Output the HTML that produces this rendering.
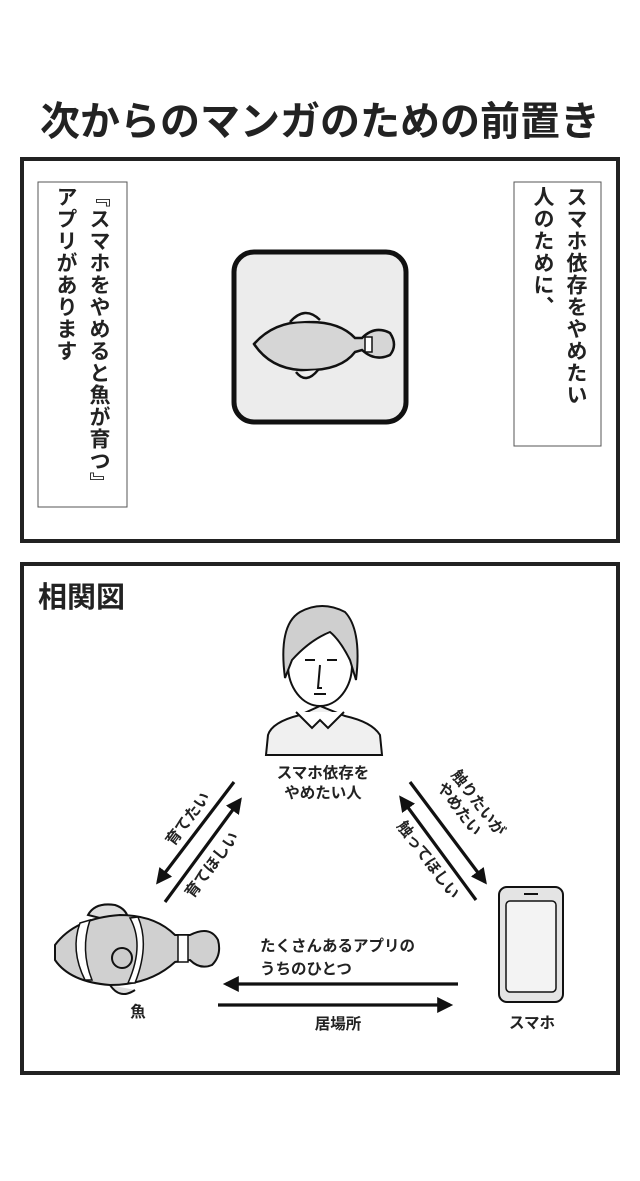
<!DOCTYPE html>
<html><head><meta charset="utf-8"><style>
html,body{margin:0;padding:0;background:#fff}
svg{display:block}
text{font-family:"Liberation Sans","Noto Sans CJK JP",sans-serif;fill:#222}
.v{writing-mode:vertical-rl;font-family:"Liberation Sans","Noto Sans CJK JP",sans-serif;font-size:21px;font-weight:bold;color:#222;position:absolute;line-height:33px;letter-spacing:1px}
</style></head><body>
<div style="position:relative;width:640px;height:1181px">
<svg width="640" height="1181" viewBox="0 0 640 1181">
<defs><marker id="a" markerWidth="6" markerHeight="6" refX="4" refY="3" orient="auto" markerUnits="strokeWidth"><path d="M0,0.5 L5,3 L0,5.5 z" fill="#111"/></marker></defs>
<text x="320" y="135" font-size="40" font-weight="bold" text-anchor="middle">次からのマンガのための前置き</text>
<rect x="22" y="159" width="596" height="382" fill="#fff" stroke="#222" stroke-width="4"/>
<rect x="38" y="182" width="89" height="325" fill="#fff" stroke="#555" stroke-width="1"/>
<rect x="514" y="182" width="87" height="264" fill="#fff" stroke="#555" stroke-width="1"/>
<rect x="234" y="252" width="172" height="170" rx="20" fill="#ececec" stroke="#111" stroke-width="5"/>
<g stroke="#111" stroke-width="2.5" fill="#d6d6d6">
<path d="M254,344 Q275,320 310,322 Q340,322 355,338 L362,338 Q375,325 390,333 Q398,345 390,355 Q375,362 362,350 L355,352 Q340,372 300,370 Q270,368 254,344 z"/>
<path d="M290,322 Q305,305 320,320" fill="#eee"/>
<path d="M296,372 Q306,385 318,370" fill="#eee"/>
<path d="M365,337 L372,337 L372,352 L365,352 z" fill="#fff" stroke-width="1.5"/>
</g>
<rect x="22" y="564" width="596" height="509" fill="#fff" stroke="#222" stroke-width="4"/>
<text x="38" y="607" font-size="29" font-weight="bold">相関図</text>
<g stroke="#111" stroke-width="2" fill="#f0f0f0">
<path d="M266,755 L268,735 Q272,722 300,715 L320,706 L345,716 Q372,722 380,735 L382,755 z"/>
<path d="M296,712 L312,728 L320,720 L328,728 L344,712" fill="#fff"/>
<ellipse cx="320" cy="665" rx="32" ry="41" fill="#fff"/>
<path d="M285,678 Q278,625 300,612 Q322,600 345,612 Q362,630 356,680 L350,660 Q340,640 330,632 Q310,640 292,660 z" fill="#cfcfcf"/>
<path d="M305,660 L315,660 M327,660 L337,660 M320,665 L318,688 L322,688 M314,694 L326,694" fill="none"/>
</g>
<text x="323" y="778" font-size="15.5" font-weight="bold" text-anchor="middle">スマホ依存を</text>
<text x="323" y="798" font-size="15.5" font-weight="bold" text-anchor="middle">やめたい人</text>
<g stroke="#111" stroke-width="3.2" fill="none">
<line x1="234" y1="782" x2="158" y2="882" marker-end="url(#a)"/>
<line x1="165" y1="902" x2="240" y2="800" marker-end="url(#a)"/>
<line x1="410" y1="782" x2="485" y2="882" marker-end="url(#a)"/>
<line x1="476" y1="900" x2="401" y2="798" marker-end="url(#a)"/>
<line x1="458" y1="984" x2="226" y2="984" marker-end="url(#a)"/>
<line x1="218" y1="1005" x2="450" y2="1005" marker-end="url(#a)"/>
</g>
<g font-size="15.5" font-weight="bold">
<text transform="translate(192,822) rotate(-53)" text-anchor="middle">育てたい</text>
<text transform="translate(216,868) rotate(-53)" text-anchor="middle">育てほしい</text>
<text transform="translate(474,806) rotate(53)" text-anchor="middle">触りたいが</text>
<text transform="translate(455,812) rotate(53)" text-anchor="middle">やめたい</text>
<text transform="translate(424,863) rotate(53)" text-anchor="middle">触ってほしい</text>
<text x="260" y="951">たくさんあるアプリの</text>
<text x="260" y="974">うちのひとつ</text>
<text x="338" y="1029" text-anchor="middle">居場所</text>
<text x="138" y="1017" text-anchor="middle">魚</text>
<text x="532" y="1028" text-anchor="middle">スマホ</text>
</g>
<g stroke="#111" stroke-width="2" fill="#d0d0d0">
<path d="M88,915 Q95,902 115,905 Q130,910 128,925 z" fill="#ddd"/>
<path d="M110,985 Q120,1000 135,990" fill="#ddd"/>
<path d="M55,945 Q75,918 120,915 Q155,915 175,935 L190,935 Q210,925 218,940 Q222,955 212,965 Q200,970 190,960 L175,962 Q150,985 110,985 Q70,982 55,960 z"/>
<path d="M80,923 Q70,950 85,980 L92,980 Q80,950 90,920 z" fill="#fff" stroke-width="1.5"/>
<path d="M130,918 Q145,945 128,983 L135,983 Q150,945 138,917 z" fill="#fff" stroke-width="1.5"/>
<path d="M178,935 L188,935 L188,962 L178,962 z" fill="#fff" stroke-width="1.5"/>
<circle cx="122" cy="958" r="10" fill="#ccc"/>
</g>
<rect x="499" y="887" width="64" height="115" rx="8" fill="#e4e4e4" stroke="#111" stroke-width="2"/>
<rect x="506" y="901" width="50" height="91" rx="4" fill="#f3f3f3" stroke="#111" stroke-width="1.5"/>
<line x1="524" y1="894" x2="538" y2="894" stroke="#111" stroke-width="2"/>
</svg>
<div class="v" style="left:49px;top:186px">『スマホをやめると魚が育つ』<br>アプリがあります</div>
<div class="v" style="left:526px;top:186px">スマホ依存をやめたい<br>人のために、</div>
</div>
</body></html>
